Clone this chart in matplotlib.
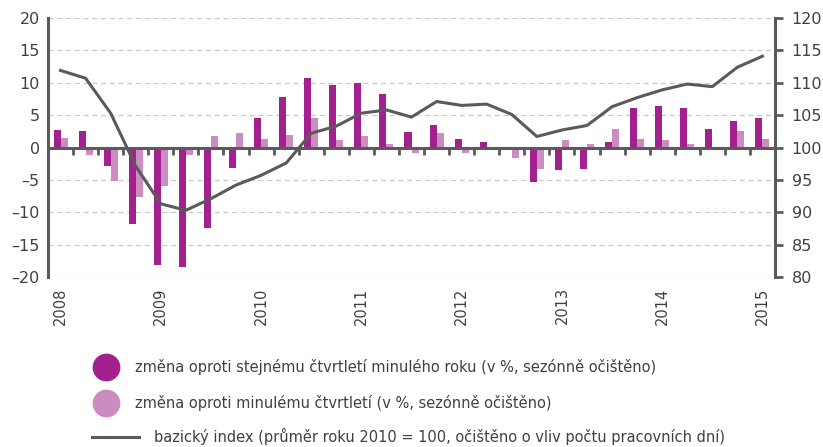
import matplotlib
matplotlib.use("Agg")
import matplotlib.pyplot as plt
from matplotlib.lines import Line2D
import numpy as np

plt.rcParams['font.family'] = ['DejaVu Sans']

years = ['2008', '2009', '2010', '2011', '2012', '2013', '2014', '2015']

# quarterly data 2008Q1 .. 2015Q1
yoy = [2.7, 2.6, -2.8, -11.8, -18.1, -18.4, -12.4, -3.2,
       4.6, 7.8, 10.7, 9.6, 9.9, 8.2, 2.4, 3.4,
       1.3, 0.9, -0.1, -5.3, -3.5, -3.3, 0.9, 6.1,
       6.4, 6.1, 2.8, 4.1, 4.5]
qoq = [1.5, -1.2, -5.2, -7.7, -5.9, -1.2, 1.7, 2.2,
       1.3, 1.9, 4.5, 1.1, 1.7, 0.5, -0.9, 2.2,
       -0.8, -0.1, -1.6, -3.3, 1.1, 0.5, 2.8, 1.3,
       1.1, 0.5, -0.2, 2.6, 1.3]
index = [111.9, 110.7, 105.3, 97.1, 91.3, 90.3, 92.1, 94.2,
         95.7, 97.6, 102.2, 103.3, 105.3, 105.8, 104.7, 107.1,
         106.5, 106.7, 105.1, 101.7, 102.7, 103.4, 106.3, 107.7,
         108.9, 109.8, 109.4, 112.4, 114.1]

labels = ['změna oproti stejnému čtvrtletí minulého roku (v %, sezónně očištěno)',
          'změna oproti minulému čtvrtletí (v %, sezónně očištěno)',
          'bazický index (průměr roku 2010 = 100, očištěno o vliv počtu pracovních dní)']

c_dark = '#A3218E'
c_light = '#CC8CC0'
c_gray = '#5A5A5A'
c_text = '#404040'

fig = plt.figure(figsize=(8.23, 4.47), dpi=100)
ax = fig.add_axes([48/823, 1-277/447, (775-48)/823, (277-18)/447])

n = len(yoy)
x = np.arange(n)
w = 0.28
ax.bar(x - w/2, yoy, width=w, color=c_dark, zorder=3)
ax.bar(x + w/2, qoq, width=w, color=c_light, zorder=3)

ax.set_xlim(-0.5, n - 0.5)
ax.set_ylim(-20, 20)
ax.set_yticks(np.arange(-20, 21, 5))
ax.set_yticklabels([str(v).replace('-', '–') for v in range(-20, 21, 5)])
ax.grid(axis='y', linestyle=(0, (4, 3)), color='#C8C8C8', linewidth=0.9, zorder=0)
ax.set_axisbelow(True)

for s in ['top', 'right']:
    ax.spines[s].set_visible(False)
ax.spines['left'].set_color(c_gray)
ax.spines['left'].set_linewidth(2.2)
ax.spines['bottom'].set_position(('data', 0))
ax.spines['bottom'].set_color(c_gray)
ax.spines['bottom'].set_linewidth(2.2)
ax.spines['bottom'].set_zorder(4)
ax.set_xticks(np.arange(0.5, n - 1, 1))
ax.set_xticklabels([])
ax.tick_params(axis='x', direction='out', length=5, width=2, color=c_gray)
ax.tick_params(axis='y', length=0, labelsize=11.5, labelcolor=c_text, pad=6)

for i, yr in enumerate(years):
    ax.text(4 * i, -0.04, yr, transform=ax.get_xaxis_transform(), rotation=90,
            ha='center', va='top', fontsize=10.5, color=c_text)

ax2 = ax.twinx()
ax2.plot(x, index, color=c_gray, linewidth=2.2, zorder=5)
ax2.set_ylim(80, 120)
ax2.set_yticks(np.arange(80, 121, 5))
for s in ['top', 'left', 'bottom']:
    ax2.spines[s].set_visible(False)
ax2.spines['right'].set_color(c_gray)
ax2.spines['right'].set_linewidth(2.2)
ax2.tick_params(axis='y', direction='out', length=6, width=2, color=c_gray,
                labelsize=11.5, labelcolor=c_text, pad=6)

# legend
H = 447.0
def fy(py):
    return 1 - py / H

fig.add_artist(Line2D([106/823], [fy(367)], marker='o', markersize=19,
                      color=c_dark, linestyle='none', transform=fig.transFigure))
fig.add_artist(Line2D([106/823], [fy(403)], marker='o', markersize=19,
                      color=c_light, linestyle='none', transform=fig.transFigure))
fig.add_artist(Line2D([92/823, 139/823], [fy(437), fy(437)], color=c_gray,
                      linewidth=2.2, transform=fig.transFigure))
fig.text(135/823, fy(367), labels[0], fontsize=10.5, color=c_text, va='center')
fig.text(135/823, fy(403), labels[1], fontsize=10.5, color=c_text, va='center')
fig.text(154/823, fy(436), labels[2], fontsize=10.5, color=c_text, va='center')

fig.savefig('out.png', dpi=100)
